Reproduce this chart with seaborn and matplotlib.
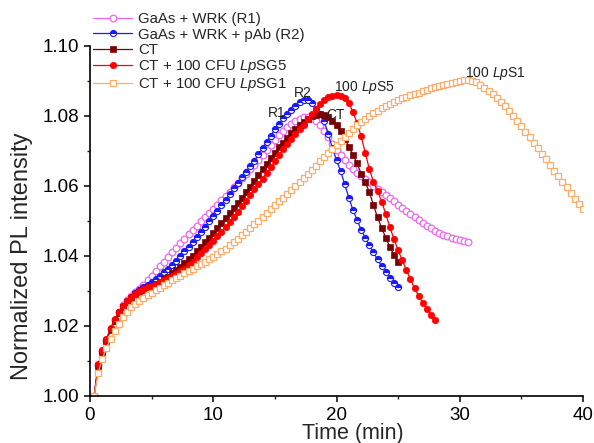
import numpy as np
import matplotlib
matplotlib.use("Agg")
import matplotlib.pyplot as plt
import seaborn as sns
from matplotlib.ticker import MultipleLocator

# sampling step of the PL measurements (min)
step = 1.0 / 3.0

r1_vals = [1.0000, 1.0088, 1.0128, 1.0161, 1.0191, 1.0217, 1.0240, 1.0259, 1.0274, 1.0286,
           1.0296, 1.0306, 1.0317, 1.0330, 1.0344, 1.0357, 1.0370, 1.0384, 1.0398, 1.0411,
           1.0424, 1.0437, 1.0449, 1.0462, 1.0474, 1.0487, 1.0499, 1.0511, 1.0523, 1.0535,
           1.0547, 1.0559, 1.0571, 1.0583, 1.0596, 1.0609, 1.0622, 1.0635, 1.0648, 1.0661,
           1.0675, 1.0689, 1.0703, 1.0717, 1.0731, 1.0745, 1.0757, 1.0768, 1.0778, 1.0786,
           1.0792, 1.0796, 1.0797, 1.0793, 1.0785, 1.0773, 1.0757, 1.0739, 1.0720, 1.0703,
           1.0688, 1.0674, 1.0661, 1.0649, 1.0638, 1.0628, 1.0619, 1.0610, 1.0601, 1.0592,
           1.0583, 1.0574, 1.0565, 1.0556, 1.0547, 1.0538, 1.0529, 1.0520, 1.0511, 1.0502,
           1.0494, 1.0486, 1.0479, 1.0472, 1.0466, 1.0461, 1.0456, 1.0452, 1.0448, 1.0445,
           1.0443, 1.0441]

r2_vals = [1.0000, 1.0088, 1.0128, 1.0161, 1.0191, 1.0217, 1.0239, 1.0257, 1.0271, 1.0283,
           1.0293, 1.0302, 1.0310, 1.0318, 1.0326, 1.0334, 1.0343, 1.0353, 1.0364, 1.0375,
           1.0387, 1.0400, 1.0413, 1.0427, 1.0441, 1.0455, 1.0469, 1.0484, 1.0499, 1.0514,
           1.0529, 1.0545, 1.0561, 1.0577, 1.0593, 1.0609, 1.0625, 1.0640, 1.0656, 1.0672,
           1.0690, 1.0708, 1.0726, 1.0744, 1.0762, 1.0778, 1.0793, 1.0806, 1.0818, 1.0829,
           1.0839, 1.0845, 1.0846, 1.0838, 1.0820, 1.0805, 1.0785, 1.0748, 1.0708, 1.0674,
           1.0642, 1.0605, 1.0566, 1.0532, 1.0503, 1.0475, 1.0452, 1.0430, 1.0410, 1.0390,
           1.0370, 1.0354, 1.0338, 1.0324, 1.0312]

ct_vals = [1.0000, 1.0085, 1.0125, 1.0158, 1.0188, 1.0214, 1.0236, 1.0254, 1.0268, 1.0280,
           1.0290, 1.0298, 1.0304, 1.0310, 1.0315, 1.0321, 1.0327, 1.0333, 1.0341, 1.0350,
           1.0359, 1.0369, 1.0379, 1.0390, 1.0401, 1.0413, 1.0426, 1.0439, 1.0452, 1.0466,
           1.0480, 1.0494, 1.0508, 1.0522, 1.0536, 1.0551, 1.0566, 1.0582, 1.0598, 1.0615,
           1.0632, 1.0648, 1.0664, 1.0680, 1.0695, 1.0710, 1.0724, 1.0737, 1.0750, 1.0762,
           1.0773, 1.0783, 1.0792, 1.0799, 1.0803, 1.0805, 1.0803, 1.0797, 1.0787, 1.0773,
           1.0756, 1.0735, 1.0712, 1.0689, 1.0665, 1.0635, 1.0610, 1.0583, 1.0545, 1.0510,
           1.0480, 1.0452, 1.0425, 1.0403, 1.0384]

sg5_vals = [1.0000, 1.0090, 1.0130, 1.0163, 1.0193, 1.0219, 1.0240, 1.0257, 1.0271, 1.0282,
            1.0291, 1.0299, 1.0305, 1.0310, 1.0315, 1.0320, 1.0325, 1.0330, 1.0336, 1.0343,
            1.0349, 1.0356, 1.0363, 1.0373, 1.0384, 1.0396, 1.0408, 1.0420, 1.0431, 1.0443,
            1.0456, 1.0469, 1.0483, 1.0497, 1.0512, 1.0527, 1.0542, 1.0558, 1.0574, 1.0590,
            1.0606, 1.0621, 1.0637, 1.0653, 1.0670, 1.0688, 1.0705, 1.0720, 1.0734, 1.0748,
            1.0762, 1.0775, 1.0790, 1.0805, 1.0820, 1.0833, 1.0845, 1.0853, 1.0858, 1.0860,
            1.0858, 1.0850, 1.0836, 1.0812, 1.0780, 1.0742, 1.0695, 1.0648, 1.0612, 1.0585,
            1.0555, 1.0520, 1.0482, 1.0448, 1.0416, 1.0388, 1.0360, 1.0333, 1.0308, 1.0286,
            1.0266, 1.0248, 1.0232, 1.0217]

sg1_vals = [1.0000, 1.0067, 1.0106, 1.0138, 1.0163, 1.0186, 1.0207, 1.0226, 1.0241, 1.0253,
            1.0263, 1.0272, 1.0280, 1.0288, 1.0295, 1.0302, 1.0309, 1.0316, 1.0323, 1.0330,
            1.0337, 1.0344, 1.0350, 1.0356, 1.0363, 1.0370, 1.0377, 1.0384, 1.0391, 1.0398,
            1.0405, 1.0413, 1.0421, 1.0430, 1.0439, 1.0449, 1.0459, 1.0469, 1.0479, 1.0490,
            1.0501, 1.0512, 1.0523, 1.0534, 1.0545, 1.0556, 1.0567, 1.0578, 1.0589, 1.0600,
            1.0611, 1.0622, 1.0634, 1.0646, 1.0658, 1.0670, 1.0682, 1.0694, 1.0706, 1.0718,
            1.0729, 1.0740, 1.0751, 1.0762, 1.0773, 1.0783, 1.0792, 1.0800, 1.0808, 1.0815,
            1.0822, 1.0828, 1.0834, 1.0840, 1.0845, 1.0850, 1.0855, 1.0859, 1.0863, 1.0867,
            1.0871, 1.0875, 1.0879, 1.0882, 1.0885, 1.0888, 1.0891, 1.0894, 1.0897, 1.0900,
            1.0902, 1.0903, 1.0901, 1.0896, 1.0889, 1.0881, 1.0872, 1.0862, 1.0852, 1.0841,
            1.0828, 1.0814, 1.0800, 1.0785, 1.0770, 1.0755, 1.0740, 1.0724, 1.0708, 1.0692,
            1.0676, 1.0660, 1.0644, 1.0628, 1.0612, 1.0596, 1.0580, 1.0564, 1.0548, 1.0533]

labels = ["GaAs + WRK (R1)", "GaAs + WRK + pAb (R2)", "CT",
          r"CT + 100 CFU $\mathit{Lp}$SG5", r"CT + 100 CFU $\mathit{Lp}$SG1"]

sns.set_theme(style="ticks")
plt.rcParams.update({
    'font.family': ['Liberation Sans', 'DejaVu Sans'],
    'mathtext.fontset': 'custom',
    'mathtext.rm': 'Liberation Sans',
    'mathtext.it': 'Liberation Sans:italic',
    'axes.linewidth': 1.2,
    'xtick.direction': 'out',
    'ytick.direction': 'out',
    'xtick.major.size': 4.5,
    'ytick.major.size': 4.5,
    'xtick.minor.size': 2.5,
    'ytick.minor.size': 2.5,
    'xtick.major.width': 1.1,
    'ytick.major.width': 1.1,
    'xtick.minor.width': 1.0,
    'ytick.minor.width': 1.0,
})

fig = plt.figure(figsize=(5.94, 4.43), dpi=100)
ax = fig.add_axes([0.1515, 0.1061, 0.83, 0.7901])

def times(vals):
    return step * np.arange(1, len(vals) + 1)

styles = [
    dict(color='#EE66EE', marker='o', markersize=4.8, markerfacecolor='white',
         markeredgecolor='#EE66EE', markeredgewidth=0.9),
    dict(color='#1A1AFF', marker='o', markersize=4.4, fillstyle='top',
         markerfacecolor='#1A1AFF', markerfacecoloralt='white',
         markeredgecolor='#1A1AFF', markeredgewidth=0.8),
    dict(color='#7A0000', marker='s', markersize=4.4, markerfacecolor='#7A0000',
         markeredgecolor='#7A0000', markeredgewidth=0.5),
    dict(color='#FF0000', marker='o', markersize=4.6, markerfacecolor='#FF0000',
         markeredgecolor='#FF0000', markeredgewidth=0.5),
    dict(color='#FFAC6A', marker='s', markersize=4.6, markerfacecolor='white',
         markeredgecolor='#FFAC6A', markeredgewidth=0.9),
]

series = [r1_vals, r2_vals, ct_vals, sg5_vals, sg1_vals]
for vals, lab, st in zip(series, labels, styles):
    sns.lineplot(x=times(vals), y=vals, label=lab, linewidth=0.9, sort=False,
                 ax=ax, **st)

ax.set_xlim(0, 40)
ax.set_ylim(1.0, 1.10)
ax.xaxis.set_major_locator(MultipleLocator(10))
ax.xaxis.set_minor_locator(MultipleLocator(5))
ax.yaxis.set_major_locator(MultipleLocator(0.02))
ax.yaxis.set_minor_locator(MultipleLocator(0.01))
ax.yaxis.set_major_formatter(matplotlib.ticker.FormatStrFormatter('%.2f'))
ax.tick_params(labelsize=13.5, colors='black')
sns.despine(ax=ax)
for sp in ['left', 'bottom']:
    ax.spines[sp].set_color('black')

ax.set_xlabel("Time (min)", fontsize=15.5)
ax.set_ylabel("Normalized PL intensity", fontsize=17)
ax.xaxis.set_label_coords(0.533, -0.076)
ax.yaxis.set_label_coords(-0.115, 0.40)

ann = dict(fontsize=10, ha='center', va='center', color='#222222')
ax.text(15.15, 1.0808, "R1", **ann)
ax.text(17.3, 1.0865, "R2", **ann)
ax.text(19.9, 1.0803, "CT", **ann)
ax.text(22.3, 1.0881, r"100 $\mathit{Lp}$S5", **ann)
ax.text(32.85, 1.0922, r"100 $\mathit{Lp}$S1", **ann)

ax.legend(loc='upper left', bbox_to_anchor=(0.157, 0.972), bbox_transform=fig.transFigure,
          frameon=False, fontsize=10.8, handlelength=2.6, handletextpad=0.4,
          labelspacing=0.08, borderaxespad=0, borderpad=0, numpoints=1)

fig.savefig("out.png", dpi=100)
